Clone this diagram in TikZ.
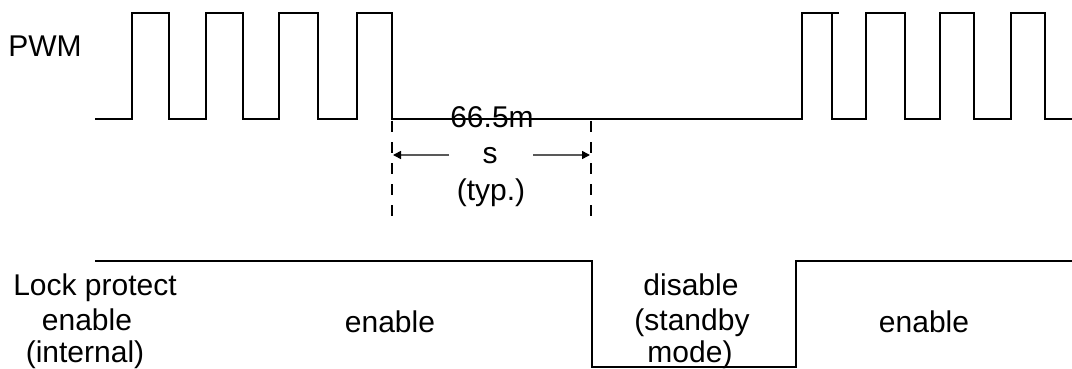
\documentclass[tikz,border=0pt]{standalone}
\usepackage{fontspec}
\setmainfont{Liberation Sans}
\usetikzlibrary{arrows.meta}
\begin{document}
\begin{tikzpicture}[x=1pt,y=-1pt,
  sig/.style={line width=1.5pt,black,line join=miter},
  dimline/.style={line width=1.4pt,black,dash pattern=on 11pt off 10pt},
  dimarrow/.style={line width=1.6pt,black!65,-{Triangle[length=8pt,width=8pt,fill=black,color=black]}},
  lbl/.style={inner sep=0pt,anchor=base,font=\fontsize{30}{36}\selectfont}]
\useasboundingbox (0,0) rectangle (1072,369);
% PWM signal, left burst
\draw[sig] (95,119) -- (132,119) -- (132,13) -- (169,13) -- (169,119) -- (206,119) -- (206,13)
  -- (243,13) -- (243,119) -- (279,119) -- (279,13) -- (318,13) -- (318,119) -- (357,119)
  -- (357,13) -- (392,13) -- (392,119) -- (802,119) -- (802,13) -- (839,13);
% PWM signal, right burst
\draw[sig] (832,13) -- (832,119) -- (866,119) -- (866,13) -- (905,13) -- (905,119) -- (940,119)
  -- (940,13) -- (974,13) -- (974,119) -- (1011,119) -- (1011,13) -- (1045,13) -- (1045,119) -- (1072,119);
% Lock protect signal
\draw[sig] (95,261) -- (592,261) -- (592,367) -- (796,367) -- (796,261) -- (1072,261);
% dimension lines
\coordinate (dl1) at (392,121);
\coordinate (dl2) at (392,218);
\coordinate (dr1) at (591,121);
\coordinate (dr2) at (591,218);
\draw[dimline] (dl1) -- (dl2);
\draw[dimline] (dr1) -- (dr2);
\coordinate (al) at (393,155);
\coordinate (alt) at (449,155);
\coordinate (ar) at (590,155);
\coordinate (art) at (533,155);
\draw[dimarrow] (alt) -- (al);
\draw[dimarrow] (art) -- (ar);
% labels
\node[lbl] (pwm) at (45,57) {PWM};
\node[lbl] (t1) at (492,128) {66.5m};
\node[lbl] (t2) at (490,164) {s};
\node[lbl] (t3) at (491,200) {(typ.)};
\node[lbl] (l1) at (95,295) {Lock protect};
\node[lbl] (l2) at (87,330) {enable};
\node[lbl] (l3) at (85,362) {(internal)};
\node[lbl] (e1) at (390,332) {enable};
\node[lbl] (d1) at (691,295) {disable};
\node[lbl] (d2) at (692,330) {(standby};
\node[lbl] (d3) at (690,362) {mode)};
\node[lbl] (e2) at (924,332) {enable};
\end{tikzpicture}
\end{document}
